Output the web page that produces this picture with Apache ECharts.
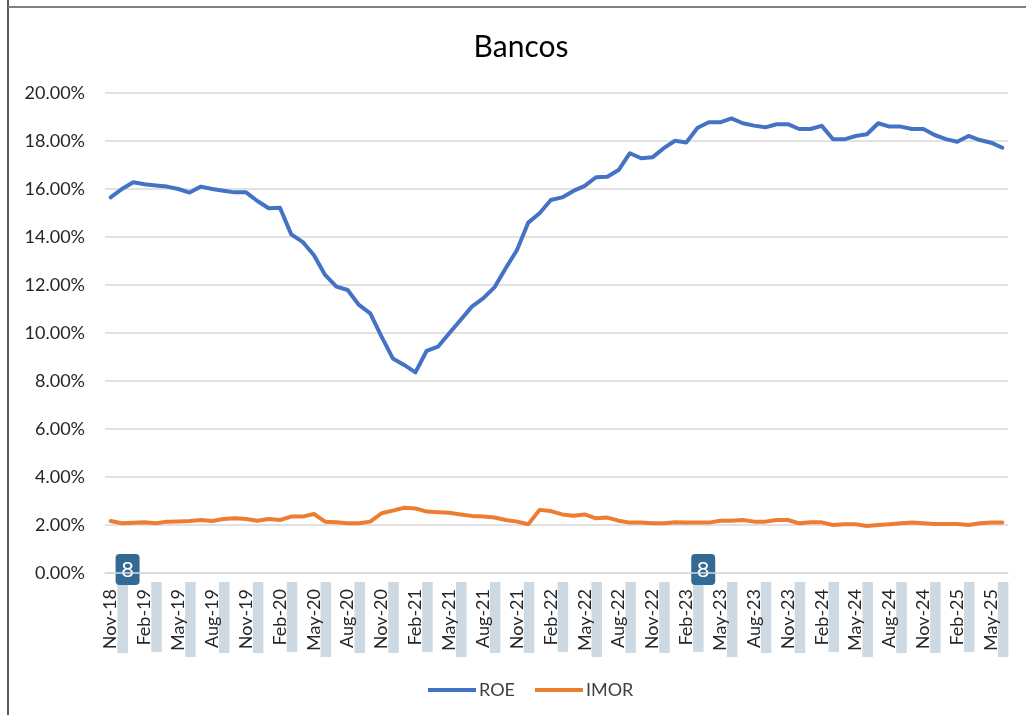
<!DOCTYPE html>
<html>
<head>
<meta charset="utf-8">
<script src="https://cdn.jsdelivr.net/npm/echarts@6/dist/echarts.min.js"></script>
<style>
    html, body { margin: 0; padding: 0; background: #fff; }
    #chart { width: 1026px; height: 715px; }
</style>
</head>
<body>
<div id="chart"></div>
<script>
// meses de nov-18 a jun-25
var monthNames = ['Jan', 'Feb', 'Mar', 'Apr', 'May', 'Jun', 'Jul', 'Aug', 'Sep', 'Oct', 'Nov', 'Dec'];
var months = [];
for (var k = 0; k < 80; k++) {
    var m = (10 + k) % 12;
    var y = 18 + Math.floor((10 + k) / 12);
    months.push(monthNames[m] + '-' + y);
}

var roe = [
    15.65, 16.00, 16.28, 16.20, 16.15, 16.10, 16.00, 15.85, 16.10, 16.00,
    15.93, 15.86, 15.86, 15.50, 15.20, 15.22, 14.11, 13.80, 13.25, 12.42,
    11.93, 11.79, 11.17, 10.82, 9.85, 8.94, 8.67, 8.36, 9.26, 9.43,
    9.99, 10.54, 11.10, 11.44, 11.90, 12.70, 13.46, 14.60, 14.99, 15.54,
    15.65, 15.92, 16.13, 16.49, 16.51, 16.79, 17.49, 17.28, 17.32, 17.70,
    18.01, 17.94, 18.55, 18.78, 18.78, 18.94, 18.74, 18.64, 18.57, 18.70,
    18.70, 18.50, 18.50, 18.63, 18.07, 18.07, 18.21, 18.28, 18.74, 18.60,
    18.60, 18.50, 18.50, 18.25, 18.08, 17.97, 18.21, 18.04, 17.93, 17.72
];

var imor = [
    2.17, 2.07, 2.09, 2.11, 2.07, 2.14, 2.15, 2.17, 2.21, 2.17,
    2.25, 2.28, 2.25, 2.18, 2.25, 2.21, 2.35, 2.35, 2.46, 2.14,
    2.11, 2.07, 2.07, 2.14, 2.49, 2.60, 2.72, 2.69, 2.56, 2.53,
    2.51, 2.44, 2.38, 2.35, 2.31, 2.21, 2.14, 2.03, 2.63, 2.58,
    2.44, 2.39, 2.44, 2.28, 2.31, 2.18, 2.10, 2.10, 2.07, 2.07,
    2.11, 2.10, 2.10, 2.10, 2.18, 2.18, 2.21, 2.14, 2.14, 2.21,
    2.21, 2.07, 2.11, 2.11, 2.00, 2.03, 2.03, 1.96, 2.00, 2.03,
    2.07, 2.10, 2.07, 2.04, 2.04, 2.04, 2.00, 2.07, 2.10, 2.10
];

var seriesNames = ['ROE', 'IMOR'];
// categorias donde aparecen las marcas "8"
var badgeAt = [1.5, 52.5];

var textFont = 'Lato, "Open Sans", sans-serif';
var chart = echarts.init(document.getElementById('chart'));

var option = {
    animation: false,
    title: {
        text: 'Bancos',
        left: 516,
        top: 27,
        textAlign: 'center',
        textStyle: { fontFamily: textFont, fontSize: 30, fontWeight: 'normal', color: '#000' }
    },
    legend: {
        data: seriesNames,
        icon: 'rect',
        left: 423,
        top: 676,
        itemWidth: 48,
        itemHeight: 4,
        itemGap: 20,
        textStyle: { fontFamily: textFont, fontSize: 18, color: '#404040', padding: [0, 0, 0, -2] }
    },
    grid: { left: 105, right: 18, top: 93, bottom: 142 },
    xAxis: {
        type: 'category',
        data: months,
        boundaryGap: true,
        axisLine: { lineStyle: { color: '#d9d9d9', width: 1.5 } },
        axisTick: { interval: 2, length: 5, lineStyle: { color: '#d9d9d9' } },
        axisLabel: {
            interval: 2,
            rotate: 90,
            margin: 16,
            fontFamily: textFont,
            fontSize: 18,
            color: '#262626'
        },
        z: 5
    },
    yAxis: {
        type: 'value',
        min: 0,
        max: 20,
        interval: 2,
        axisLine: { show: false },
        axisTick: { show: false },
        splitLine: { lineStyle: { color: '#d9d9d9', width: 1.5 } },
        axisLabel: {
            margin: 20,
            fontFamily: textFont,
            fontSize: 18,
            color: '#262626',
            formatter: function(v) { return v.toFixed(2) + '%'; }
        }
    },
    series: [{
        name: 'ROE',
        type: 'line',
        data: roe,
        symbol: 'none',
        lineStyle: { width: 4, color: '#4472C4', join: 'round', cap: 'round' },
        itemStyle: { color: '#4472C4' }
    }, {
        name: 'IMOR',
        type: 'line',
        data: imor,
        symbol: 'none',
        lineStyle: { width: 4, color: '#ED7D31', join: 'round', cap: 'round' },
        itemStyle: { color: '#ED7D31' }
    }]
};
chart.setOption(option);

// marcas sobre las etiquetas del eje x
var barBottom = { Nov: 653, Feb: 652, May: 657, Aug: 653 };
var graphics = [
    { type: 'line', shape: { x1: 8, y1: 0, x2: 8, y2: 715 }, style: { stroke: '#595959', lineWidth: 2 }, z: 10 },
    { type: 'line', shape: { x1: 8, y1: 7, x2: 1026, y2: 7 }, style: { stroke: '#7f7f7f', lineWidth: 2 }, z: 10 }
];
for (var i = 0; i < months.length; i += 3) {
    var px = chart.convertToPixel({ xAxisIndex: 0 }, i + 1);
    var mon = months[i].split('-')[0];
    graphics.push({
        type: 'rect',
        shape: { x: px - 4.5, y: 582, width: 10.5, height: barBottom[mon] - 582 },
        style: { fill: '#cdd9e3' },
        z: -1
    });
}
badgeAt.forEach(function(c) {
    var x0 = chart.convertToPixel({ xAxisIndex: 0 }, Math.floor(c));
    var x1 = chart.convertToPixel({ xAxisIndex: 0 }, Math.ceil(c));
    var cx = (x0 + x1) / 2;
    graphics.push({
        type: 'group',
        z: 20,
        children: [{
            type: 'rect',
            shape: { x: cx - 12, y: 554, width: 24, height: 31, r: 4 },
            style: { fill: '#336a93' }
        }, {
            type: 'text',
            x: cx,
            y: 570,
            style: {
                text: '8',
                fill: '#fff',
                font: '22px ' + textFont,
                align: 'center',
                verticalAlign: 'middle'
            }
        }]
    });
});
chart.setOption({ graphic: graphics });
</script>
</body>
</html>
